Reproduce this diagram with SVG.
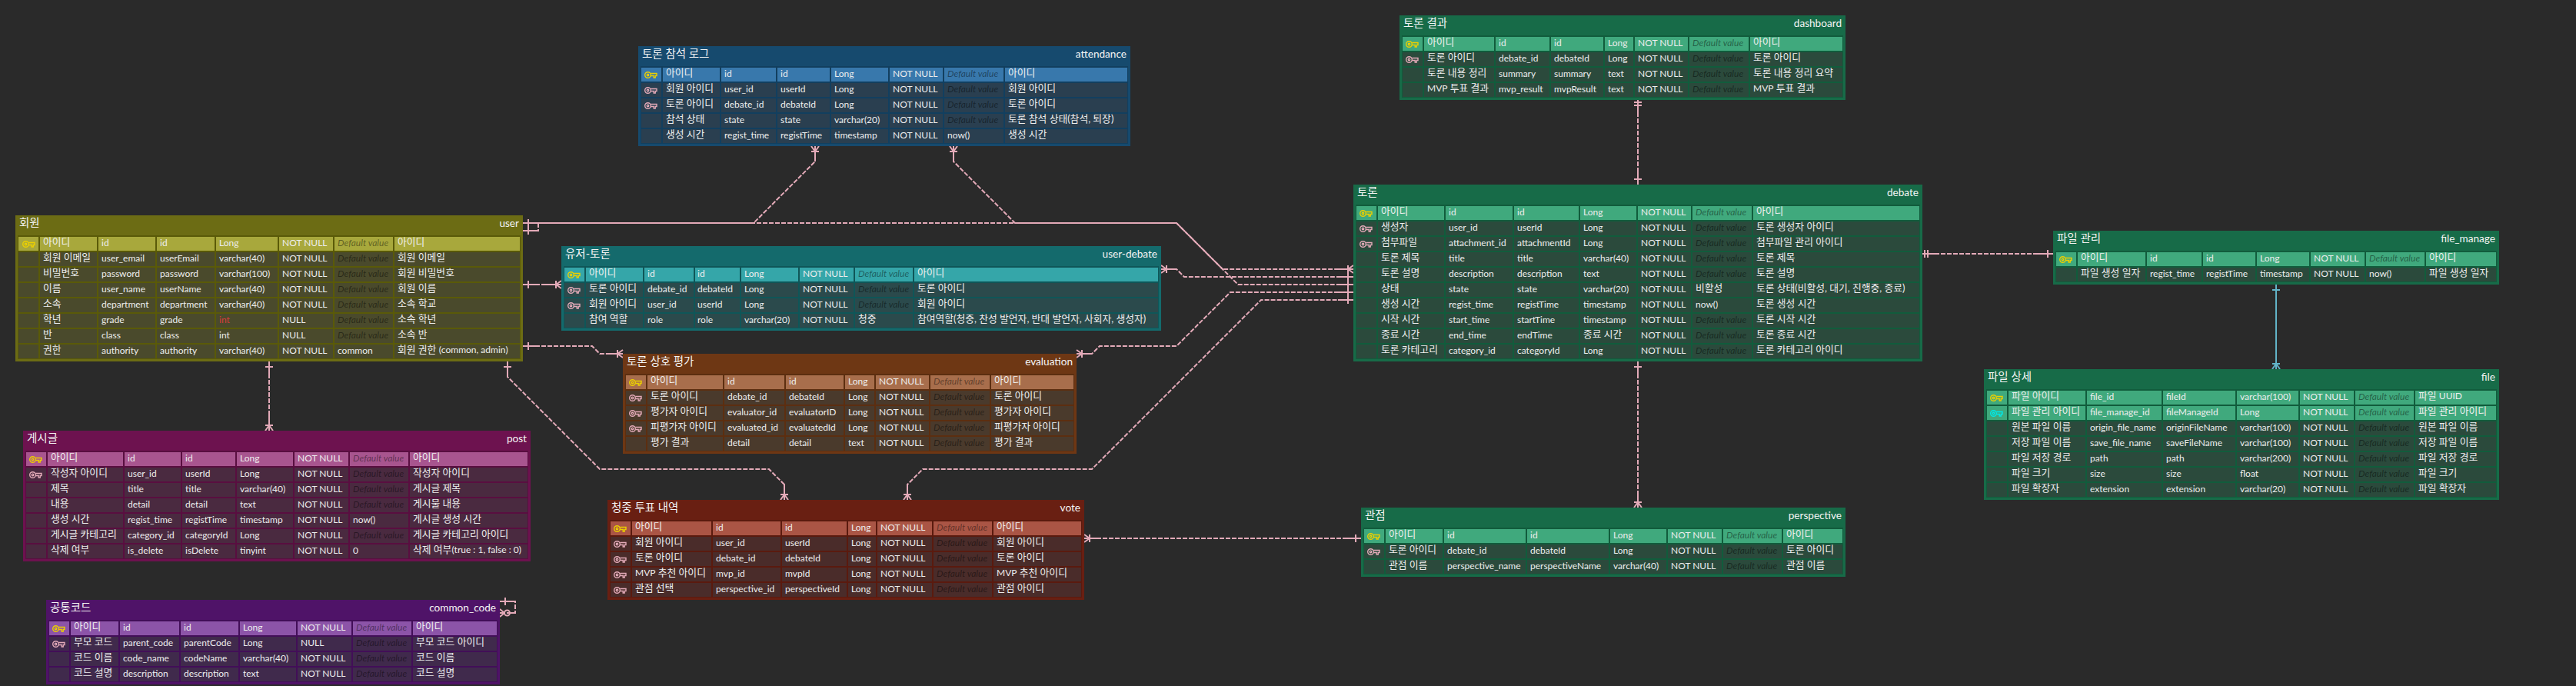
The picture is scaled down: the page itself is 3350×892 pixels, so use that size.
<svg xmlns="http://www.w3.org/2000/svg" width="3350" height="892" viewBox="0 0 3350 892">
<style>
text{font-family:Lato,"Noto Sans CJK KR","Noto Sans",sans-serif;font-size:12px;fill:#eeeeee}
.k{font-size:12.8px;transform:translateY(-1px)}
.l{font-size:12px}
.d{font-style:italic;fill:#000;fill-opacity:.45}
.r{fill:#d83c3c}
.tt{font-size:14.5px;fill:#f4f4f4}
.tn{font-size:13.6px;text-anchor:end;fill:#f4f4f4}
.pk{stroke:#ecd000}.fk{stroke:#e3aab8}.ck{stroke:#00e8e8}
.mk{fill:none;stroke:#e3aab8;stroke-width:2}
.mt{fill:none;stroke:#62b4c8;stroke-width:2}
#conn path{fill:none;stroke:#e3aab8;stroke-width:2;stroke-dasharray:6 2}
#conn path.tl{stroke:#62b4c8;stroke-dasharray:none}
.olive .o{fill:#6c6c14}.olive .i{fill:#5a5a08}.olive .h{fill:#a8a83c}.olive .b{fill:#4a4a2c}
.blue .o{fill:#164a6e}.blue .i{fill:#123f5f}.blue .h{fill:#3878ac}.blue .b{fill:#2a3f50}
.teal .o{fill:#146a6c}.teal .i{fill:#0f5658}.teal .h{fill:#35a6a9}.teal .b{fill:#2b4a4c}
.green .o{fill:#176b48}.green .i{fill:#115c3c}.green .h{fill:#40a97d}.green .b{fill:#2b4a3c}
.plum .o{fill:#6d124f}.plum .i{fill:#590e40}.plum .h{fill:#a8558f}.plum .b{fill:#4a2a40}
.purple .o{fill:#4f1368}.purple .i{fill:#420e58}.purple .h{fill:#8c54a8}.purple .b{fill:#402a4c}
.brown .o{fill:#6e3714}.brown .i{fill:#5c2e10}.brown .h{fill:#a86e4c}.brown .b{fill:#4a3a2c}
.red .o{fill:#691f12}.red .i{fill:#5a1a0e}.red .h{fill:#aa5545}.red .b{fill:#4a2c2a}
</style>
<defs>
<g id="key" fill="none" stroke-width="1.4"><circle cx="4.5" cy="4.5" r="3.8"/><circle cx="4.5" cy="4.5" r="1.2"/><path d="M8.3 2.5H16V5.5H14.2V8H12.2V5.5H8.3"/></g>
<marker id="one" markerUnits="userSpaceOnUse" markerWidth="40" markerHeight="40" viewBox="-30 -20 40 40" refX="0" refY="0" orient="auto-start-reverse"><path class="mk" d="M-20 0H0M-7 -5V5"/></marker>
<marker id="two" markerUnits="userSpaceOnUse" markerWidth="40" markerHeight="40" viewBox="-30 -20 40 40" refX="0" refY="0" orient="auto-start-reverse"><path class="mk" d="M-20 0H0M-7 -5V5M-3 -5V5"/></marker>
<marker id="many" markerUnits="userSpaceOnUse" markerWidth="40" markerHeight="40" viewBox="-30 -20 40 40" refX="0" refY="0" orient="auto-start-reverse"><path class="mk" d="M-20 0H0M-7 -5V5M-7 0L0 -5M-7 0L0 5"/></marker>
<marker id="zm" markerUnits="userSpaceOnUse" markerWidth="40" markerHeight="40" viewBox="-30 -20 40 40" refX="0" refY="0" orient="auto-start-reverse"><path class="mk" d="M-20 0H-13M-6 0H0M-6 0L0 -5M-6 0L0 5"/><circle class="mk" cx="-9.5" cy="0" r="3.5"/></marker>
<marker id="oneT" markerUnits="userSpaceOnUse" markerWidth="40" markerHeight="40" viewBox="-30 -20 40 40" refX="0" refY="0" orient="auto-start-reverse"><path class="mt" d="M-20 0H0M-7 -5V5"/></marker>
<marker id="manyT" markerUnits="userSpaceOnUse" markerWidth="40" markerHeight="40" viewBox="-30 -20 40 40" refX="0" refY="0" orient="auto-start-reverse"><path class="mt" d="M-20 0H0M-7 -5V5M-7 0L0 -5M-7 0L0 5"/></marker>
<path id="c-user" d="M24 0H50V18H24ZM52 0H126V18H52ZM128 0H202V18H128ZM204 0H279V18H204ZM281 0H361V18H281ZM363 0H433V18H363ZM435 0H511V18H435ZM513 0H676V18H513Z"/>
<path id="c-att" d="M834 0H860V18H834ZM862 0H936V18H862ZM938 0H1009V18H938ZM1011 0H1079V18H1011ZM1081 0H1155V18H1081ZM1157 0H1226V18H1157ZM1228 0H1305V18H1228ZM1307 0H1466V18H1307Z"/>
<path id="c-ud" d="M734 0H760V18H734ZM762 0H836V18H762ZM838 0H902V18H838ZM904 0H962V18H904ZM964 0H1038V18H964ZM1040 0H1110V18H1040ZM1112 0H1187V18H1112ZM1189 0H1506V18H1189Z"/>
<path id="c-dash" d="M1824 0H1850V18H1824ZM1852 0H1943V18H1852ZM1945 0H2015V18H1945ZM2017 0H2085V18H2017ZM2087 0H2124V18H2087ZM2126 0H2195V18H2126ZM2197 0H2274V18H2197ZM2276 0H2396V18H2276Z"/>
<path id="c-deb" d="M1764 0H1790V18H1764ZM1792 0H1878V18H1792ZM1880 0H1967V18H1880ZM1969 0H2053V18H1969ZM2055 0H2128V18H2055ZM2130 0H2199V18H2130ZM2201 0H2278V18H2201ZM2280 0H2496V18H2280Z"/>
<path id="c-fm" d="M2674 0H2700V18H2674ZM2702 0H2790V18H2702ZM2792 0H2863V18H2792ZM2865 0H2933V18H2865ZM2935 0H3003V18H2935ZM3005 0H3075V18H3005ZM3077 0H3153V18H3077ZM3155 0H3246V18H3155Z"/>
<path id="c-file" d="M2584 0H2610V18H2584ZM2612 0H2712V18H2612ZM2714 0H2811V18H2714ZM2813 0H2907V18H2813ZM2909 0H2989V18H2909ZM2991 0H3061V18H2991ZM3063 0H3139V18H3063ZM3141 0H3246V18H3141Z"/>
<path id="c-post" d="M34 0H60V18H34ZM62 0H160V18H62ZM162 0H235V18H162ZM237 0H306V18H237ZM308 0H381V18H308ZM383 0H453V18H383ZM455 0H531V18H455ZM533 0H686V18H533Z"/>
<path id="c-cc" d="M64 0H90V18H64ZM92 0H154V18H92ZM156 0H233V18H156ZM235 0H310V18H235ZM312 0H385V18H312ZM387 0H457V18H387ZM459 0H535V18H459ZM537 0H646V18H537Z"/>
<path id="c-ev" d="M814 0H840V18H814ZM842 0H940V18H842ZM942 0H1020V18H942ZM1022 0H1097V18H1022ZM1099 0H1137V18H1099ZM1139 0H1208V18H1139ZM1210 0H1287V18H1210ZM1289 0H1396V18H1289Z"/>
<path id="c-vo" d="M794 0H820V18H794ZM822 0H925V18H822ZM927 0H1015V18H927ZM1017 0H1101V18H1017ZM1103 0H1139V18H1103ZM1141 0H1212V18H1141ZM1214 0H1290V18H1214ZM1292 0H1406V18H1292Z"/>
<path id="c-pe" d="M1774 0H1800V18H1774ZM1802 0H1876V18H1802ZM1878 0H1984V18H1878ZM1986 0H2092V18H1986ZM2094 0H2167V18H2094ZM2169 0H2239V18H2169ZM2241 0H2317V18H2241ZM2319 0H2396V18H2319Z"/>
</defs>
<rect width="3350" height="892" fill="#2a2a2a"/>
<g id="conn">
<path d="M680 290H1530L1590 350H1760" marker-start="url(#one)" marker-end="url(#many)"/>
<path d="M680 300H700V290H980L1060 210V190" marker-start="url(#one)" marker-end="url(#many)"/>
<path d="M1240 190V210L1320 290H1530L1610 370H1760" marker-start="url(#many)" marker-end="url(#one)"/>
<path d="M1510 350H1530L1540 360H1760" marker-start="url(#many)" marker-end="url(#one)"/>
<path d="M1400 460H1420L1430 450H1530L1600 380H1760" marker-start="url(#many)" marker-end="url(#one)"/>
<path d="M1180 650V630L1200 610H1420L1640 390H1760" marker-start="url(#many)" marker-end="url(#one)"/>
<path d="M680 370H730" marker-start="url(#one)" marker-end="url(#many)"/>
<path d="M680 450H770L780 460H810" marker-start="url(#one)" marker-end="url(#many)"/>
<path d="M660 470V490L780 610H1000L1020 630V650" marker-start="url(#one)" marker-end="url(#many)"/>
<path d="M350 470V560" marker-start="url(#one)" marker-end="url(#many)"/>
<path d="M2130 130V240" marker-start="url(#two)" marker-end="url(#one)"/>
<path d="M2130 470V660" marker-start="url(#one)" marker-end="url(#many)"/>
<path d="M2500 330H2670" marker-start="url(#two)" marker-end="url(#one)"/>
<path class="tl" d="M2960 370V480" marker-start="url(#oneT)" marker-end="url(#manyT)"/>
<path d="M1410 700H1770" marker-start="url(#many)" marker-end="url(#one)"/>
<path d="M650 782H670V797H650" marker-start="url(#one)" marker-end="url(#zm)"/>
</g>

<g id="user" class="olive">
<rect class="o" x="20" y="280" width="660" height="190"/><rect class="i" x="23" y="306" width="654" height="161"/>
<use href="#c-user" class="h" y="308"/><use href="#c-user" class="b" y="328"/><use href="#c-user" class="b" y="348"/><use href="#c-user" class="b" y="368"/><use href="#c-user" class="b" y="388"/><use href="#c-user" class="b" y="408"/><use href="#c-user" class="b" y="428"/><use href="#c-user" class="b" y="448"/>
<use href="#key" class="pk" x="29" y="313"/>
<text class="tt" x="25" y="295">회원</text><text class="tn" x="675" y="295">user</text>
<g transform="translate(0,320)"><text class="k" x="56">아이디</text><text x="132">id</text><text x="208">id</text><text x="285">Long</text><text x="367">NOT NULL</text><text class="d" x="439">Default value</text><text class="k" x="517">아이디</text></g>
<g transform="translate(0,340)"><text class="k" x="56">회원 이메일</text><text x="132">user_email</text><text x="208">userEmail</text><text x="285">varchar(40)</text><text x="367">NOT NULL</text><text class="d" x="439">Default value</text><text class="k" x="517">회원 이메일</text></g>
<g transform="translate(0,360)"><text class="k" x="56">비밀번호</text><text x="132">password</text><text x="208">password</text><text x="285">varchar(100)</text><text x="367">NOT NULL</text><text class="d" x="439">Default value</text><text class="k" x="517">회원 비밀번호</text></g>
<g transform="translate(0,380)"><text class="k" x="56">이름</text><text x="132">user_name</text><text x="208">userName</text><text x="285">varchar(40)</text><text x="367">NOT NULL</text><text class="d" x="439">Default value</text><text class="k" x="517">회원 이름</text></g>
<g transform="translate(0,400)"><text class="k" x="56">소속</text><text x="132">department</text><text x="208">department</text><text x="285">varchar(40)</text><text x="367">NOT NULL</text><text class="d" x="439">Default value</text><text class="k" x="517">소속 학교</text></g>
<g transform="translate(0,420)"><text class="k" x="56">학년</text><text x="132">grade</text><text x="208">grade</text><text class="r" x="285">int</text><text x="367">NULL</text><text class="d" x="439">Default value</text><text class="k" x="517">소속 학년</text></g>
<g transform="translate(0,440)"><text class="k" x="56">반</text><text x="132">class</text><text x="208">class</text><text x="285">int</text><text x="367">NULL</text><text class="d" x="439">Default value</text><text class="k" x="517">소속 반</text></g>
<g transform="translate(0,460)"><text class="k" x="56">권한</text><text x="132">authority</text><text x="208">authority</text><text x="285">varchar(40)</text><text x="367">NOT NULL</text><text x="439">common</text><text class="k" x="517">회원 권한 <tspan class="l">(common, admin)</tspan></text></g>
</g>

<g id="attendance" class="blue">
<rect class="o" x="830" y="60" width="640" height="130"/><rect class="i" x="833" y="86" width="634" height="101"/>
<use href="#c-att" class="h" y="88"/><use href="#c-att" class="b" y="108"/><use href="#c-att" class="b" y="128"/><use href="#c-att" class="b" y="148"/><use href="#c-att" class="b" y="168"/>
<use href="#key" class="pk" x="838" y="93"/><use href="#key" class="fk" x="838" y="113"/><use href="#key" class="fk" x="838" y="133"/>
<text class="tt" x="835" y="75">토론 참석 로그</text><text class="tn" x="1465" y="75">attendance</text>
<g transform="translate(0,100)"><text class="k" x="866">아이디</text><text x="942">id</text><text x="1015">id</text><text x="1085">Long</text><text x="1161">NOT NULL</text><text class="d" x="1232">Default value</text><text class="k" x="1311">아이디</text></g>
<g transform="translate(0,120)"><text class="k" x="866">회원 아이디</text><text x="942">user_id</text><text x="1015">userId</text><text x="1085">Long</text><text x="1161">NOT NULL</text><text class="d" x="1232">Default value</text><text class="k" x="1311">회원 아이디</text></g>
<g transform="translate(0,140)"><text class="k" x="866">토론 아이디</text><text x="942">debate_id</text><text x="1015">debateId</text><text x="1085">Long</text><text x="1161">NOT NULL</text><text class="d" x="1232">Default value</text><text class="k" x="1311">토론 아이디</text></g>
<g transform="translate(0,160)"><text class="k" x="866">참석 상태</text><text x="942">state</text><text x="1015">state</text><text x="1085">varchar(20)</text><text x="1161">NOT NULL</text><text class="d" x="1232">Default value</text><text class="k" x="1311">토론 참석 상태(참석, 퇴장)</text></g>
<g transform="translate(0,180)"><text class="k" x="866">생성 시간</text><text x="942">regist_time</text><text x="1015">registTime</text><text x="1085">timestamp</text><text x="1161">NOT NULL</text><text x="1232">now()</text><text class="k" x="1311">생성 시간</text></g>
</g>

<g id="user-debate" class="teal">
<rect class="o" x="730" y="320" width="780" height="110"/><rect class="i" x="733" y="346" width="774" height="81"/>
<use href="#c-ud" class="h" y="348"/><use href="#c-ud" class="b" y="368"/><use href="#c-ud" class="b" y="388"/><use href="#c-ud" class="b" y="408"/>
<use href="#key" class="pk" x="738" y="353"/><use href="#key" class="fk" x="738" y="373"/><use href="#key" class="fk" x="738" y="393"/>
<text class="tt" x="735" y="335">유저-토론</text><text class="tn" x="1505" y="335">user-debate</text>
<g transform="translate(0,360)"><text class="k" x="766">아이디</text><text x="842">id</text><text x="907">id</text><text x="968">Long</text><text x="1044">NOT NULL</text><text class="d" x="1116">Default value</text><text class="k" x="1193">아이디</text></g>
<g transform="translate(0,380)"><text class="k" x="766">토론 아이디</text><text x="842">debate_id</text><text x="907">debateId</text><text x="968">Long</text><text x="1044">NOT NULL</text><text class="d" x="1116">Default value</text><text class="k" x="1193">토론 아이디</text></g>
<g transform="translate(0,400)"><text class="k" x="766">회원 아이디</text><text x="842">user_id</text><text x="907">userId</text><text x="968">Long</text><text x="1044">NOT NULL</text><text class="d" x="1116">Default value</text><text class="k" x="1193">회원 아이디</text></g>
<g transform="translate(0,420)"><text class="k" x="766">참여 역할</text><text x="842">role</text><text x="907">role</text><text x="968">varchar(20)</text><text x="1044">NOT NULL</text><text class="k" x="1116">청중</text><text class="k" x="1193">참여역할(청중, 찬성 발언자, 반대 발언자, 사회자, 생성자)</text></g>
</g>

<g id="dashboard" class="green">
<rect class="o" x="1820" y="20" width="580" height="110"/><rect class="i" x="1823" y="46" width="574" height="81"/>
<use href="#c-dash" class="h" y="48"/><use href="#c-dash" class="b" y="68"/><use href="#c-dash" class="b" y="88"/><use href="#c-dash" class="b" y="108"/>
<use href="#key" class="pk" x="1828" y="53"/><use href="#key" class="fk" x="1828" y="73"/>
<text class="tt" x="1825" y="35">토론 결과</text><text class="tn" x="2395" y="35">dashboard</text>
<g transform="translate(0,60)"><text class="k" x="1856">아이디</text><text x="1949">id</text><text x="2021">id</text><text x="2091">Long</text><text x="2130">NOT NULL</text><text class="d" x="2201">Default value</text><text class="k" x="2280">아이디</text></g>
<g transform="translate(0,80)"><text class="k" x="1856">토론 아이디</text><text x="1949">debate_id</text><text x="2021">debateId</text><text x="2091">Long</text><text x="2130">NOT NULL</text><text class="d" x="2201">Default value</text><text class="k" x="2280">토론 아이디</text></g>
<g transform="translate(0,100)"><text class="k" x="1856">토론 내용 정리</text><text x="1949">summary</text><text x="2021">summary</text><text x="2091">text</text><text x="2130">NOT NULL</text><text class="d" x="2201">Default value</text><text class="k" x="2280">토론 내용 정리 요약</text></g>
<g transform="translate(0,120)"><text class="k" x="1856"><tspan class="l">MVP</tspan> 투표 결과</text><text x="1949">mvp_result</text><text x="2021">mvpResult</text><text x="2091">text</text><text x="2130">NOT NULL</text><text class="d" x="2201">Default value</text><text class="k" x="2280"><tspan class="l">MVP</tspan> 투표 결과</text></g>
</g>

<g id="debate" class="green">
<rect class="o" x="1760" y="240" width="740" height="230"/><rect class="i" x="1763" y="266" width="734" height="201"/>
<use href="#c-deb" class="h" y="268"/><use href="#c-deb" class="b" y="288"/><use href="#c-deb" class="b" y="308"/><use href="#c-deb" class="b" y="328"/><use href="#c-deb" class="b" y="348"/><use href="#c-deb" class="b" y="368"/><use href="#c-deb" class="b" y="388"/><use href="#c-deb" class="b" y="408"/><use href="#c-deb" class="b" y="428"/><use href="#c-deb" class="b" y="448"/>
<use href="#key" class="pk" x="1768" y="273"/><use href="#key" class="fk" x="1768" y="293"/><use href="#key" class="fk" x="1768" y="313"/>
<text class="tt" x="1765" y="255">토론</text><text class="tn" x="2495" y="255">debate</text>
<g transform="translate(0,280)"><text class="k" x="1796">아이디</text><text x="1884">id</text><text x="1973">id</text><text x="2059">Long</text><text x="2134">NOT NULL</text><text class="d" x="2205">Default value</text><text class="k" x="2284">아이디</text></g>
<g transform="translate(0,300)"><text class="k" x="1796">생성자</text><text x="1884">user_id</text><text x="1973">userId</text><text x="2059">Long</text><text x="2134">NOT NULL</text><text class="d" x="2205">Default value</text><text class="k" x="2284">토론 생성자 아이디</text></g>
<g transform="translate(0,320)"><text class="k" x="1796">첨부파일</text><text x="1884">attachment_id</text><text x="1973">attachmentId</text><text x="2059">Long</text><text x="2134">NOT NULL</text><text class="d" x="2205">Default value</text><text class="k" x="2284">첨부파일 관리 아이디</text></g>
<g transform="translate(0,340)"><text class="k" x="1796">토론 제목</text><text x="1884">title</text><text x="1973">title</text><text x="2059">varchar(40)</text><text x="2134">NOT NULL</text><text class="d" x="2205">Default value</text><text class="k" x="2284">토론 제목</text></g>
<g transform="translate(0,360)"><text class="k" x="1796">토론 설명</text><text x="1884">description</text><text x="1973">description</text><text x="2059">text</text><text x="2134">NOT NULL</text><text class="d" x="2205">Default value</text><text class="k" x="2284">토론 설명</text></g>
<g transform="translate(0,380)"><text class="k" x="1796">상태</text><text x="1884">state</text><text x="1973">state</text><text x="2059">varchar(20)</text><text x="2134">NOT NULL</text><text class="k" x="2205">비활성</text><text class="k" x="2284">토론 상태(비활성, 대기, 진행중, 종료)</text></g>
<g transform="translate(0,400)"><text class="k" x="1796">생성 시간</text><text x="1884">regist_time</text><text x="1973">registTime</text><text x="2059">timestamp</text><text x="2134">NOT NULL</text><text x="2205">now()</text><text class="k" x="2284">토론 생성 시간</text></g>
<g transform="translate(0,420)"><text class="k" x="1796">시작 시간</text><text x="1884">start_time</text><text x="1973">startTime</text><text x="2059">timestamp</text><text x="2134">NOT NULL</text><text class="d" x="2205">Default value</text><text class="k" x="2284">토론 시작 시간</text></g>
<g transform="translate(0,440)"><text class="k" x="1796">종료 시간</text><text x="1884">end_time</text><text x="1973">endTime</text><text class="k" x="2059">종료 시간</text><text x="2134">NOT NULL</text><text class="d" x="2205">Default value</text><text class="k" x="2284">토론 종료 시간</text></g>
<g transform="translate(0,460)"><text class="k" x="1796">토론 카테고리</text><text x="1884">category_id</text><text x="1973">categoryId</text><text x="2059">Long</text><text x="2134">NOT NULL</text><text class="d" x="2205">Default value</text><text class="k" x="2284">토론 카테고리 아이디</text></g>
</g>

<g id="file_manage" class="green">
<rect class="o" x="2670" y="300" width="580" height="70"/><rect class="i" x="2673" y="326" width="574" height="41"/>
<use href="#c-fm" class="h" y="328"/><use href="#c-fm" class="b" y="348"/>
<use href="#key" class="pk" x="2678" y="333"/>
<text class="tt" x="2675" y="315">파일 관리</text><text class="tn" x="3245" y="315">file_manage</text>
<g transform="translate(0,340)"><text class="k" x="2706">아이디</text><text x="2796">id</text><text x="2869">id</text><text x="2939">Long</text><text x="3009">NOT NULL</text><text class="d" x="3081">Default value</text><text class="k" x="3159">아이디</text></g>
<g transform="translate(0,360)"><text class="k" x="2706">파일 생성 일자</text><text x="2796">regist_time</text><text x="2869">registTime</text><text x="2939">timestamp</text><text x="3009">NOT NULL</text><text x="3081">now()</text><text class="k" x="3159">파일 생성 일자</text></g>
</g>

<g id="file" class="green">
<rect class="o" x="2580" y="480" width="670" height="170"/><rect class="i" x="2583" y="506" width="664" height="141"/>
<use href="#c-file" class="h" y="508"/><use href="#c-file" class="h" y="528"/><use href="#c-file" class="b" y="548"/><use href="#c-file" class="b" y="568"/><use href="#c-file" class="b" y="588"/><use href="#c-file" class="b" y="608"/><use href="#c-file" class="b" y="628"/>
<use href="#key" class="pk" x="2588" y="513"/><use href="#key" class="ck" x="2588" y="533"/>
<text class="tt" x="2585" y="495">파일 상세</text><text class="tn" x="3245" y="495">file</text>
<g transform="translate(0,520)"><text class="k" x="2616">파일 아이디</text><text x="2718">file_id</text><text x="2817">fileId</text><text x="2913">varchar(100)</text><text x="2995">NOT NULL</text><text class="d" x="3067">Default value</text><text class="k" x="3145">파일 <tspan class="l">UUID</tspan></text></g>
<g transform="translate(0,540)"><text class="k" x="2616">파일 관리 아이디</text><text x="2718">file_manage_id</text><text x="2817">fileManageId</text><text x="2913">Long</text><text x="2995">NOT NULL</text><text class="d" x="3067">Default value</text><text class="k" x="3145">파일 관리 아이디</text></g>
<g transform="translate(0,560)"><text class="k" x="2616">원본 파일 이름</text><text x="2718">origin_file_name</text><text x="2817">originFileName</text><text x="2913">varchar(100)</text><text x="2995">NOT NULL</text><text class="d" x="3067">Default value</text><text class="k" x="3145">원본 파일 이름</text></g>
<g transform="translate(0,580)"><text class="k" x="2616">저장 파일 이름</text><text x="2718">save_file_name</text><text x="2817">saveFileName</text><text x="2913">varchar(100)</text><text x="2995">NOT NULL</text><text class="d" x="3067">Default value</text><text class="k" x="3145">저장 파일 이름</text></g>
<g transform="translate(0,600)"><text class="k" x="2616">파일 저장 경로</text><text x="2718">path</text><text x="2817">path</text><text x="2913">varchar(200)</text><text x="2995">NOT NULL</text><text class="d" x="3067">Default value</text><text class="k" x="3145">파일 저장 경로</text></g>
<g transform="translate(0,620)"><text class="k" x="2616">파일 크기</text><text x="2718">size</text><text x="2817">size</text><text x="2913">float</text><text x="2995">NOT NULL</text><text class="d" x="3067">Default value</text><text class="k" x="3145">파일 크기</text></g>
<g transform="translate(0,640)"><text class="k" x="2616">파일 확장자</text><text x="2718">extension</text><text x="2817">extension</text><text x="2913">varchar(20)</text><text x="2995">NOT NULL</text><text class="d" x="3067">Default value</text><text class="k" x="3145">파일 확장자</text></g>
</g>

<g id="post" class="plum">
<rect class="o" x="30" y="560" width="660" height="170"/><rect class="i" x="33" y="586" width="654" height="141"/>
<use href="#c-post" class="h" y="588"/><use href="#c-post" class="b" y="608"/><use href="#c-post" class="b" y="628"/><use href="#c-post" class="b" y="648"/><use href="#c-post" class="b" y="668"/><use href="#c-post" class="b" y="688"/><use href="#c-post" class="b" y="708"/>
<use href="#key" class="pk" x="38" y="593"/><use href="#key" class="fk" x="38" y="613"/>
<text class="tt" x="35" y="575">게시글</text><text class="tn" x="685" y="575">post</text>
<g transform="translate(0,600)"><text class="k" x="66">아이디</text><text x="166">id</text><text x="241">id</text><text x="312">Long</text><text x="387">NOT NULL</text><text class="d" x="459">Default value</text><text class="k" x="537">아이디</text></g>
<g transform="translate(0,620)"><text class="k" x="66">작성자 아이디</text><text x="166">user_id</text><text x="241">userId</text><text x="312">Long</text><text x="387">NOT NULL</text><text class="d" x="459">Default value</text><text class="k" x="537">작성자 아이디</text></g>
<g transform="translate(0,640)"><text class="k" x="66">제목</text><text x="166">title</text><text x="241">title</text><text x="312">varchar(40)</text><text x="387">NOT NULL</text><text class="d" x="459">Default value</text><text class="k" x="537">게시글 제목</text></g>
<g transform="translate(0,660)"><text class="k" x="66">내용</text><text x="166">detail</text><text x="241">detail</text><text x="312">text</text><text x="387">NOT NULL</text><text class="d" x="459">Default value</text><text class="k" x="537">게시물 내용</text></g>
<g transform="translate(0,680)"><text class="k" x="66">생성 시간</text><text x="166">regist_time</text><text x="241">registTime</text><text x="312">timestamp</text><text x="387">NOT NULL</text><text x="459">now()</text><text class="k" x="537">게시글 생성 시간</text></g>
<g transform="translate(0,700)"><text class="k" x="66">게시글 카테고리</text><text x="166">category_id</text><text x="241">categoryId</text><text x="312">Long</text><text x="387">NOT NULL</text><text class="d" x="459">Default value</text><text class="k" x="537">게시글 카테고리 아이디</text></g>
<g transform="translate(0,720)"><text class="k" x="66">삭제 여부</text><text x="166">is_delete</text><text x="241">isDelete</text><text x="312">tinyint</text><text x="387">NOT NULL</text><text x="459">0</text><text class="k" x="537">삭제 여부<tspan class="l">(true : 1, false : 0)</tspan></text></g>
</g>

<g id="common_code" class="purple">
<rect class="o" x="60" y="780" width="590" height="110"/><rect class="i" x="63" y="806" width="584" height="81"/>
<use href="#c-cc" class="h" y="808"/><use href="#c-cc" class="b" y="828"/><use href="#c-cc" class="b" y="848"/><use href="#c-cc" class="b" y="868"/>
<use href="#key" class="pk" x="68" y="813"/><use href="#key" class="fk" x="68" y="833"/>
<text class="tt" x="65" y="795">공통코드</text><text class="tn" x="645" y="795">common_code</text>
<g transform="translate(0,820)"><text class="k" x="96">아이디</text><text x="160">id</text><text x="239">id</text><text x="316">Long</text><text x="391">NOT NULL</text><text class="d" x="463">Default value</text><text class="k" x="541">아이디</text></g>
<g transform="translate(0,840)"><text class="k" x="96">부모 코드</text><text x="160">parent_code</text><text x="239">parentCode</text><text x="316">Long</text><text x="391">NULL</text><text class="d" x="463">Default value</text><text class="k" x="541">부모 코드 아이디</text></g>
<g transform="translate(0,860)"><text class="k" x="96">코드 이름</text><text x="160">code_name</text><text x="239">codeName</text><text x="316">varchar(40)</text><text x="391">NOT NULL</text><text class="d" x="463">Default value</text><text class="k" x="541">코드 이름</text></g>
<g transform="translate(0,880)"><text class="k" x="96">코드 설명</text><text x="160">description</text><text x="239">description</text><text x="316">text</text><text x="391">NOT NULL</text><text class="d" x="463">Default value</text><text class="k" x="541">코드 설명</text></g>
</g>

<g id="evaluation" class="brown">
<rect class="o" x="810" y="460" width="590" height="130"/><rect class="i" x="813" y="486" width="584" height="101"/>
<use href="#c-ev" class="h" y="488"/><use href="#c-ev" class="b" y="508"/><use href="#c-ev" class="b" y="528"/><use href="#c-ev" class="b" y="548"/><use href="#c-ev" class="b" y="568"/>
<use href="#key" class="pk" x="818" y="493"/><use href="#key" class="fk" x="818" y="513"/><use href="#key" class="fk" x="818" y="533"/><use href="#key" class="fk" x="818" y="553"/>
<text class="tt" x="815" y="475">토론 상호 평가</text><text class="tn" x="1395" y="475">evaluation</text>
<g transform="translate(0,500)"><text class="k" x="846">아이디</text><text x="946">id</text><text x="1026">id</text><text x="1103">Long</text><text x="1143">NOT NULL</text><text class="d" x="1214">Default value</text><text class="k" x="1293">아이디</text></g>
<g transform="translate(0,520)"><text class="k" x="846">토론 아이디</text><text x="946">debate_id</text><text x="1026">debateId</text><text x="1103">Long</text><text x="1143">NOT NULL</text><text class="d" x="1214">Default value</text><text class="k" x="1293">토론 아이디</text></g>
<g transform="translate(0,540)"><text class="k" x="846">평가자 아이디</text><text x="946">evaluator_id</text><text x="1026">evaluatorID</text><text x="1103">Long</text><text x="1143">NOT NULL</text><text class="d" x="1214">Default value</text><text class="k" x="1293">평가자 아이디</text></g>
<g transform="translate(0,560)"><text class="k" x="846">피평가자 아이디</text><text x="946">evaluated_id</text><text x="1026">evaluatedId</text><text x="1103">Long</text><text x="1143">NOT NULL</text><text class="d" x="1214">Default value</text><text class="k" x="1293">피평가자 아이디</text></g>
<g transform="translate(0,580)"><text class="k" x="846">평가 결과</text><text x="946">detail</text><text x="1026">detail</text><text x="1103">text</text><text x="1143">NOT NULL</text><text class="d" x="1214">Default value</text><text class="k" x="1293">평가 결과</text></g>
</g>

<g id="vote" class="red">
<rect class="o" x="790" y="650" width="620" height="130"/><rect class="i" x="793" y="676" width="614" height="101"/>
<use href="#c-vo" class="h" y="678"/><use href="#c-vo" class="b" y="698"/><use href="#c-vo" class="b" y="718"/><use href="#c-vo" class="b" y="738"/><use href="#c-vo" class="b" y="758"/>
<use href="#key" class="pk" x="798" y="683"/><use href="#key" class="fk" x="798" y="703"/><use href="#key" class="fk" x="798" y="723"/><use href="#key" class="fk" x="798" y="743"/><use href="#key" class="fk" x="798" y="763"/>
<text class="tt" x="795" y="665">청중 투표 내역</text><text class="tn" x="1405" y="665">vote</text>
<g transform="translate(0,690)"><text class="k" x="826">아이디</text><text x="931">id</text><text x="1021">id</text><text x="1107">Long</text><text x="1145">NOT NULL</text><text class="d" x="1218">Default value</text><text class="k" x="1296">아이디</text></g>
<g transform="translate(0,710)"><text class="k" x="826">회원 아이디</text><text x="931">user_id</text><text x="1021">userId</text><text x="1107">Long</text><text x="1145">NOT NULL</text><text class="d" x="1218">Default value</text><text class="k" x="1296">회원 아이디</text></g>
<g transform="translate(0,730)"><text class="k" x="826">토론 아이디</text><text x="931">debate_id</text><text x="1021">debateId</text><text x="1107">Long</text><text x="1145">NOT NULL</text><text class="d" x="1218">Default value</text><text class="k" x="1296">토론 아이디</text></g>
<g transform="translate(0,750)"><text class="k" x="826"><tspan class="l">MVP</tspan> 추천 아이디</text><text x="931">mvp_id</text><text x="1021">mvpId</text><text x="1107">Long</text><text x="1145">NOT NULL</text><text class="d" x="1218">Default value</text><text class="k" x="1296"><tspan class="l">MVP</tspan> 추천 아이디</text></g>
<g transform="translate(0,770)"><text class="k" x="826">관점 선택</text><text x="931">perspective_id</text><text x="1021">perspectiveId</text><text x="1107">Long</text><text x="1145">NOT NULL</text><text class="d" x="1218">Default value</text><text class="k" x="1296">관점 아이디</text></g>
</g>

<g id="perspective" class="green">
<rect class="o" x="1770" y="660" width="630" height="90"/><rect class="i" x="1773" y="686" width="624" height="61"/>
<use href="#c-pe" class="h" y="688"/><use href="#c-pe" class="b" y="708"/><use href="#c-pe" class="b" y="728"/>
<use href="#key" class="pk" x="1778" y="693"/><use href="#key" class="fk" x="1778" y="713"/>
<text class="tt" x="1775" y="675">관점</text><text class="tn" x="2395" y="675">perspective</text>
<g transform="translate(0,700)"><text class="k" x="1806">아이디</text><text x="1882">id</text><text x="1990">id</text><text x="2098">Long</text><text x="2173">NOT NULL</text><text class="d" x="2245">Default value</text><text class="k" x="2323">아이디</text></g>
<g transform="translate(0,720)"><text class="k" x="1806">토론 아이디</text><text x="1882">debate_id</text><text x="1990">debateId</text><text x="2098">Long</text><text x="2173">NOT NULL</text><text class="d" x="2245">Default value</text><text class="k" x="2323">토론 아이디</text></g>
<g transform="translate(0,740)"><text class="k" x="1806">관점 이름</text><text x="1882">perspective_name</text><text x="1990">perspectiveName</text><text x="2098">varchar(40)</text><text x="2173">NOT NULL</text><text class="d" x="2245">Default value</text><text class="k" x="2323">관점 이름</text></g>
</g>
</svg>
